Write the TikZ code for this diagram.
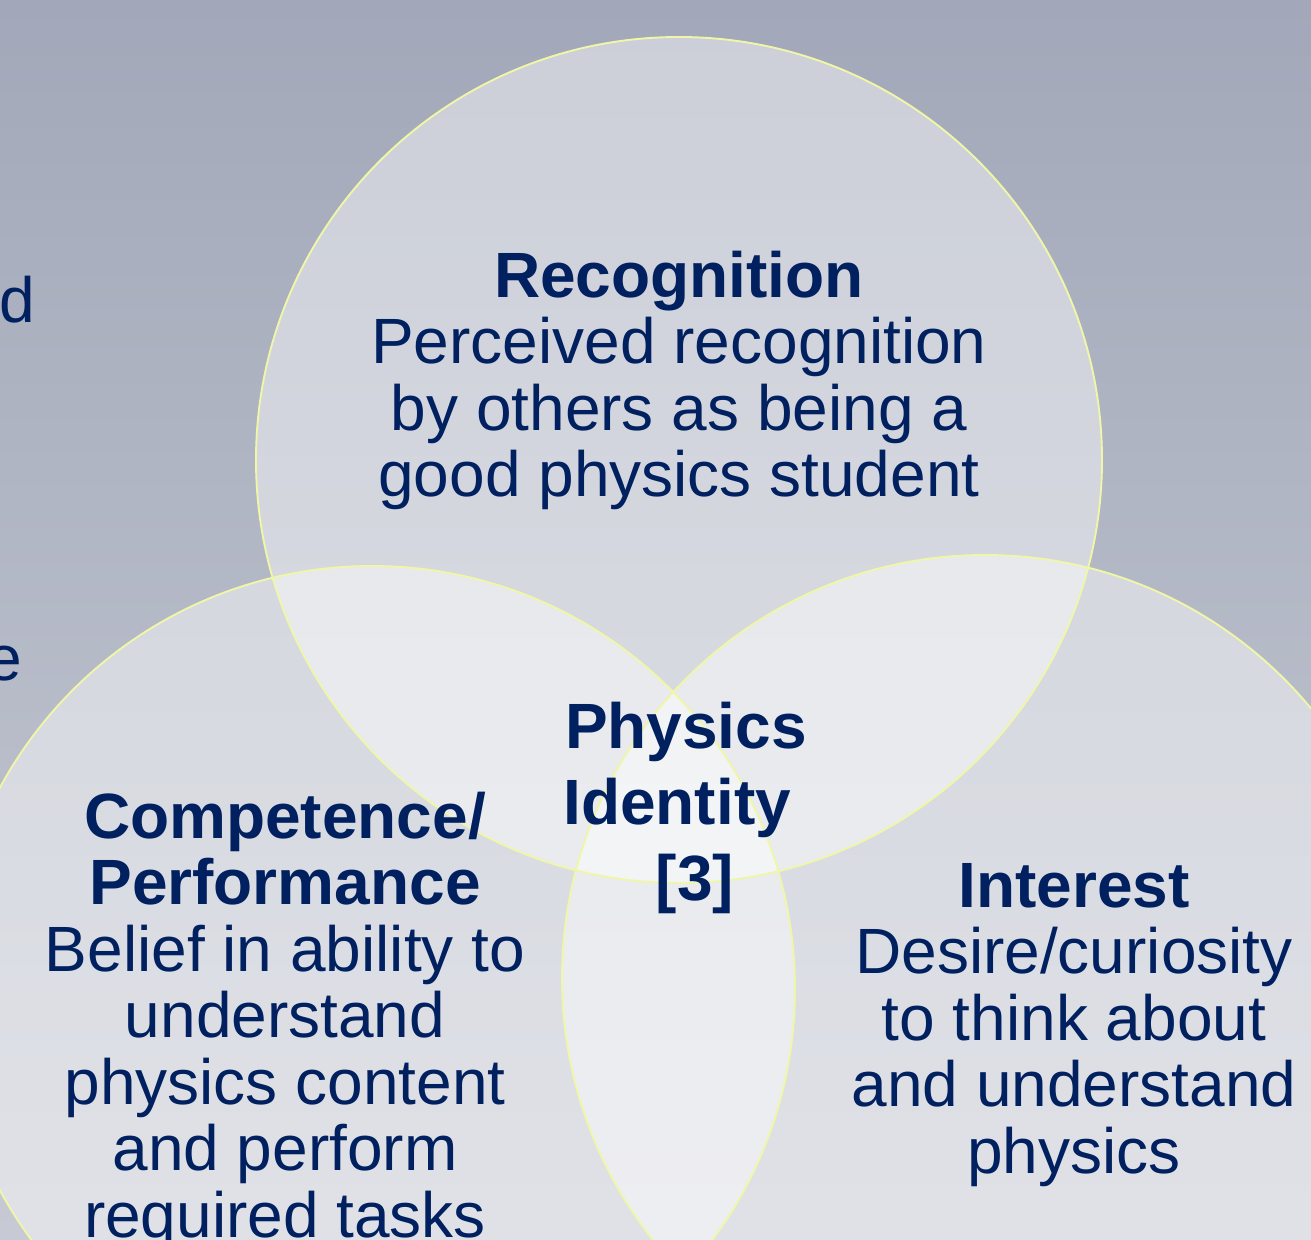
\documentclass[tikz,border=0pt]{standalone}
\usepackage{fontspec}
\setmainfont{Liberation Sans}
\definecolor{navy}{HTML}{002060}
\definecolor{rimyellow}{HTML}{F0F6A8}
\definecolor{bgtop}{HTML}{A2A8B9}
\definecolor{bgbottom}{HTML}{C7CAD4}
\newcommand{\stack}[1]{\begin{tabular}[t]{@{}c@{}}#1\end{tabular}}
\begin{document}
\begin{tikzpicture}[x=1pt,y=-1pt,
  txt/.style={text=navy, inner sep=0pt, anchor=base,
              font=\fontsize{64}{66.5}\selectfont},
  centre/.style={txt, font=\fontsize{64}{76}\selectfont\bfseries},
  disc/.style={fill=white, fill opacity=0.45},
  rim/.style={draw=rimyellow, line width=1.9pt}]
\useasboundingbox (0,0) rectangle (1311,1239);
\clip (0,0) rectangle (1311,1239);
% slide background
\shade[top color=bgtop, bottom color=bgbottom] (0,0) rectangle (1311,1239);
% three overlapping discs
\coordinate (cR) at (679,460);
\coordinate (cC) at (372,989);
\coordinate (cI) at (985,978);
\path[disc] (cR) circle[radius=423pt];
\path[disc] (cC) circle[radius=423pt];
\path[disc] (cI) circle[radius=423pt];
\draw[rim] (cR) circle[radius=423pt];
\draw[rim] (cC) circle[radius=423pt];
\draw[rim] (cI) circle[radius=423pt];
% text running in from the left
\node[txt, anchor=base east] (fragd) at (35,322) {d};
\node[txt, anchor=base east] (frage) at (22,680) {e};
% labels
\node[txt] (recog) at (679,297) {\stack{\textbf{Recognition}\\Perceived recognition\\by others as being a\\good physics student}};
\node[centre] (ident) at (686,748) {\stack{Physics\\Identity\kern0.278em\\~{[3]}}};
\node[txt] (compet) at (285,838) {\stack{\textbf{Competence/}\\\textbf{Performance}\\Belief in ability to\\understand\\physics content\\and perform\\required tasks}};
\node[txt] (inter) at (1074,907) {\stack{\textbf{Interest}\\Desire/curiosity\\to think about\\and understand\\physics}};
\end{tikzpicture}
\end{document}
